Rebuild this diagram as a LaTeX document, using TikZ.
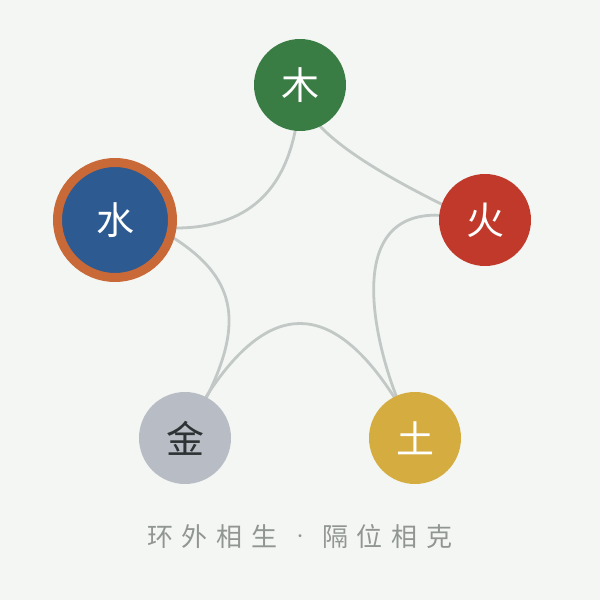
\documentclass[tikz,border=0pt]{standalone}
\usepackage{fontspec}
\newfontfamily\cjk{Noto Sans CJK SC}
\definecolor{bgc}{RGB}{244,246,243}
\definecolor{edgec}{RGB}{194,200,198}
\definecolor{woodc}{RGB}{58,125,68}
\definecolor{firec}{RGB}{192,57,43}
\definecolor{earthc}{RGB}{212,172,64}
\definecolor{metalc}{RGB}{184,189,197}
\definecolor{waterc}{RGB}{44,90,145}
\definecolor{ringc}{RGB}{200,105,55}
\definecolor{captc}{RGB}{145,150,147}
\definecolor{darkc}{RGB}{45,50,52}
\pgfdeclarelayer{background}
\pgfsetlayers{background,main}
\newcommand\cgap{\hspace{9pt}}
\begin{document}
\begin{tikzpicture}[x=1pt,y=1pt,
  elem/.style={circle,inner sep=0pt,outer sep=0pt,minimum size=92pt,
    font=\cjk\fontsize{38}{38}\selectfont,text=white},
  link/.style={draw=edgec,line width=2.8pt,line cap=round},
  capt/.style={font=\cjk\fontsize{26}{26}\selectfont,text=captc}]
\begin{pgfonlayer}{background}
  \fill[bgc] (0,0) rectangle (600,600);
\end{pgfonlayer}
\useasboundingbox (0,0) rectangle (600,600);
\node[elem,fill=woodc] (mu) at (300,515) {木};
\node[elem,fill=firec] (huo) at (485,380) {火};
\node[elem,fill=earthc] (tu) at (415,162) {土};
\node[elem,fill=metalc,text=darkc] (jin) at (185,162) {金};
\node[elem,fill=waterc,draw=ringc,line width=9pt,minimum size=115pt] (shui) at (115,380) {水};
\node[capt] (cap) at (300,63) {环\cgap 外\cgap 相\cgap 生\cgap\makebox[26pt]{\raisebox{5.5pt}{\fontsize{14}{14}\selectfont ·}}\cgap 隔\cgap 位\cgap 相\cgap 克};
\begin{pgfonlayer}{background}
  \draw[link] (mu.-64) .. controls (343,450) and (383,425) .. (huo.160);
  \draw[link] (huo.174) .. controls (340,388) and (378,250) .. (tu.114);
  \draw[link] (tu.117) .. controls (331,301) and (269,301) .. (jin.63);
  \draw[link] (jin.62) .. controls (245,280) and (235,324) .. (shui.-16);
  \draw[link] (shui.-8) .. controls (242,371) and (282,404) .. (mu.-96);
\end{pgfonlayer}
\end{tikzpicture}
\end{document}
